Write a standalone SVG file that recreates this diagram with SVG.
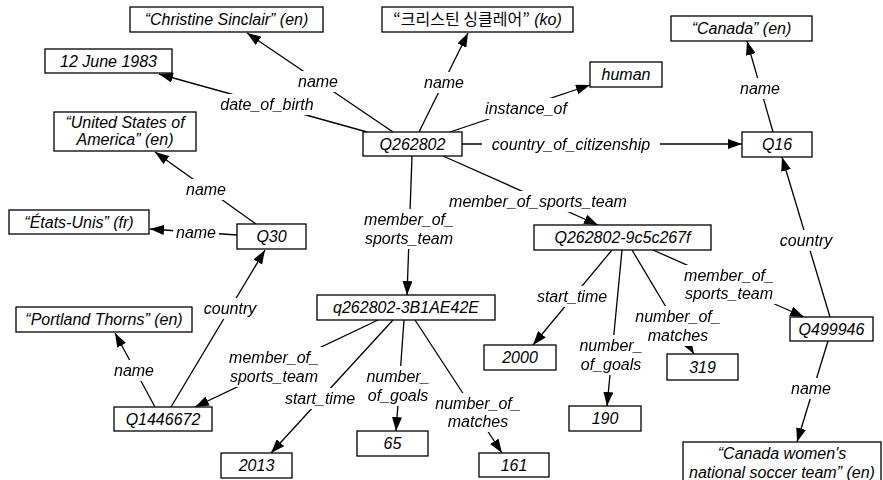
<svg xmlns="http://www.w3.org/2000/svg" width="883" height="480" viewBox="0 0 883 480">
<style>
text{font-family:"Liberation Sans",Arial,"Noto Sans CJK KR",sans-serif;font-size:16px;font-style:italic;fill:#000;text-anchor:middle}
.box{fill:#fff;stroke:#000;stroke-width:1.3}
.e{stroke:#000;stroke-width:1.3;fill:none;marker-end:url(#ah)}
.lbl{filter:url(#bg)}
.ko{font-family:"Noto Sans CJK KR",sans-serif;font-style:normal}
</style>
<defs>
<marker id="ah" markerUnits="userSpaceOnUse" markerWidth="14" markerHeight="10" refX="14" refY="5" orient="auto">
<path d="M0,0 L14,5 L0,10 z" fill="#000"/>
</marker>
<filter id="bg" x="-0.06" y="-0.08" width="1.12" height="1.16" color-interpolation-filters="sRGB">
<feFlood flood-color="#fff" flood-opacity="1" result="w"/>
<feMerge><feMergeNode in="w"/><feMergeNode in="SourceGraphic"/></feMerge>
</filter>
</defs>
<rect width="883" height="480" fill="#fff"/>
<g id="connectors">
<line class="e" x1="393" y1="132" x2="247" y2="33"/>
<line class="e" x1="419" y1="132" x2="468" y2="33"/>
<line class="e" x1="450" y1="132" x2="590" y2="85"/>
<line class="e" x1="367" y1="132" x2="159" y2="74"/>
<line class="e" x1="462" y1="144" x2="742" y2="144"/>
<line class="e" x1="412" y1="156" x2="407" y2="295"/>
<line class="e" x1="443" y1="156" x2="598" y2="225"/>
<line class="e" x1="256" y1="224" x2="155" y2="152"/>
<line class="e" x1="237" y1="235" x2="150" y2="229"/>
<line class="e" x1="171" y1="407" x2="265" y2="250"/>
<line class="e" x1="155" y1="407" x2="115" y2="333"/>
<line class="e" x1="378" y1="320" x2="195" y2="407"/>
<line class="e" x1="393" y1="320" x2="271" y2="453"/>
<line class="e" x1="404" y1="320" x2="396" y2="431"/>
<line class="e" x1="415" y1="320" x2="502" y2="453"/>
<line class="e" x1="612" y1="250" x2="533" y2="345"/>
<line class="e" x1="622" y1="250" x2="607" y2="406"/>
<line class="e" x1="632" y1="250" x2="694" y2="354"/>
<line class="e" x1="653" y1="250" x2="804" y2="317"/>
<line class="e" x1="830" y1="317" x2="782" y2="157"/>
<line class="e" x1="773" y1="132" x2="747" y2="41"/>
<line class="e" x1="828" y1="341" x2="797" y2="442"/>
<text class="lbl" x="318" y="87">name</text>
<text class="lbl" x="444" y="88">name</text>
<text class="lbl" x="526" y="114">instance_of</text>
<text class="lbl" x="267" y="110">date_of_birth</text>
<text class="lbl" x="571" y="150">country_of_citizenship</text>
<text class="lbl" x="409" y="225">member_of_</text>
<text class="lbl" x="409" y="244">sports_team</text>
<text class="lbl" x="538" y="207">member_of_sports_team</text>
<text class="lbl" x="206" y="195">name</text>
<text class="lbl" x="196" y="238">name</text>
<text class="lbl" x="230" y="314">country</text>
<text class="lbl" x="134" y="376">name</text>
<text class="lbl" x="274" y="363">member_of_</text>
<text class="lbl" x="274" y="382">sports_team</text>
<text class="lbl" x="320" y="404">start_time</text>
<text class="lbl" x="398" y="382">number_</text>
<text class="lbl" x="398" y="401">of_goals</text>
<text class="lbl" x="478" y="409">number_of_</text>
<text class="lbl" x="478" y="427">matches</text>
<text class="lbl" x="572" y="302">start_time</text>
<text class="lbl" x="611" y="351">number_</text>
<text class="lbl" x="611" y="370">of_goals</text>
<text class="lbl" x="678" y="322">number_of_</text>
<text class="lbl" x="678" y="341">matches</text>
<text class="lbl" x="729" y="281">member_of_</text>
<text class="lbl" x="729" y="299">sports_team</text>
<text class="lbl" x="806" y="246">country</text>
<text class="lbl" x="760" y="94">name</text>
<text class="lbl" x="811" y="394">name</text>
</g>
<g id="n_christine"><rect class="box" x="130" y="7" width="193" height="25"/><text x="226.5" y="25">“Christine Sinclair” (en)</text></g>
<g id="n_ko"><rect class="box" x="382" y="7" width="191" height="25"/><text x="477.5" y="25"><tspan class="ko">“크리스틴 싱클레어”</tspan> (ko)</text></g>
<g id="n_canada"><rect class="box" x="671" y="16" width="141" height="25"/><text x="741.5" y="34">“Canada” (en)</text></g>
<g id="n_dob"><rect class="box" x="45" y="49" width="127" height="24"/><text x="108.5" y="66.5">12 June 1983</text></g>
<g id="n_human"><rect class="box" x="590" y="62" width="72" height="25"/><text x="626" y="80">human</text></g>
<g id="n_usa"><rect class="box" x="54" y="112" width="142" height="39"/><text x="125" y="128">“United States of</text><text x="125" y="145">America” (en)</text></g>
<g id="n_Q262802"><rect class="box" x="363" y="132" width="99" height="24"/><text x="412.5" y="149.5">Q262802</text></g>
<g id="n_Q16"><rect class="box" x="742" y="132" width="70" height="25"/><text x="777" y="150">Q16</text></g>
<g id="n_etats"><rect class="box" x="9" y="210" width="140" height="24"/><text x="79" y="227.5">“États-Unis” (fr)</text></g>
<g id="n_Q30"><rect class="box" x="237" y="224" width="69" height="25"/><text x="271.5" y="242">Q30</text></g>
<g id="n_stmt1"><rect class="box" x="534" y="225" width="177" height="25"/><text x="622.5" y="243">Q262802-9c5c267f</text></g>
<g id="n_stmt2"><rect class="box" x="317" y="295" width="178" height="25"/><text x="406" y="313">q262802-3B1AE42E</text></g>
<g id="n_portland"><rect class="box" x="16" y="307" width="176" height="25"/><text x="104" y="325">“Portland Thorns” (en)</text></g>
<g id="n_Q1446672"><rect class="box" x="114" y="407" width="98" height="24"/><text x="163" y="424.5">Q1446672</text></g>
<g id="n_Q499946"><rect class="box" x="790" y="317" width="83" height="24"/><text x="831.5" y="334.5">Q499946</text></g>
<g id="n_2000"><rect class="box" x="484" y="345" width="72" height="25"/><text x="520" y="363">2000</text></g>
<g id="n_319"><rect class="box" x="667" y="354" width="71" height="26"/><text x="702.5" y="372.5">319</text></g>
<g id="n_190"><rect class="box" x="569" y="406" width="72" height="25"/><text x="605" y="424">190</text></g>
<g id="n_65"><rect class="box" x="357" y="431" width="71" height="25"/><text x="392.5" y="449">65</text></g>
<g id="n_2013"><rect class="box" x="221" y="453" width="71" height="25"/><text x="256.5" y="471">2013</text></g>
<g id="n_161"><rect class="box" x="479" y="453" width="70" height="24"/><text x="514" y="470.5">161</text></g>
<g id="n_cwnt"><rect class="box" x="683" y="442" width="198" height="45"/><text x="782" y="459">“Canada women's</text><text x="782" y="478">national soccer team” (en)</text></g>
</svg>
